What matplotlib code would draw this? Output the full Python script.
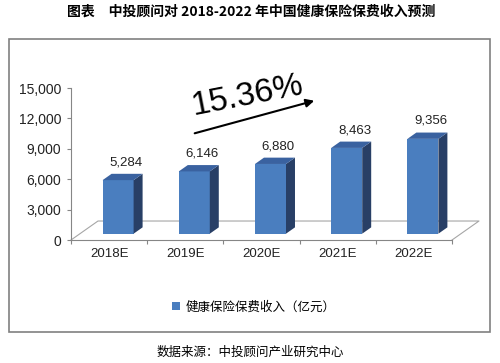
import numpy as np
import matplotlib.pyplot as plt
from matplotlib.patches import Rectangle, Patch

plt.rcParams['font.family'] = ['Liberation Sans', 'Noto Sans CJK SC', 'DejaVu Sans']

# data
years = ["2018E", "2019E", "2020E", "2021E", "2022E"]
premium = [5284, 6146, 6880, 8463, 9356]
series_name = "健康保险保费收入（亿元）"
growth_label = "15.36%"
title = "图表　中投顾问对 2018-2022 年中国健康保险保费收入预测"
source = "数据来源：中投顾问产业研究中心"

yticks = [0, 3000, 6000, 9000, 12000, 15000]

# colours
c_front = "#4A7EBF"
c_side = "#283F66"
c_top = "#3A62A0"
c_grid = "#A6A6A6"
c_axis = "#868686"

fig = plt.figure(figsize=(5, 3.63), dpi=100)
ax = fig.add_axes([0.142, 0.3388, 0.762, 0.4187])
ax.set_xlim(0, len(years))
ax.set_ylim(0, 15000)

# 3d depth of the floor (in data units)
depth_x = 0.354
depth_y = 1875

# floor outline
ax.plot([0, depth_x, len(years) + depth_x, len(years)],
        [0, depth_y, depth_y, 0], color=c_grid, lw=0.8, clip_on=False, zorder=1)

# bars (front face, side face, top face)
bw = 0.407
for i, v in enumerate(premium):
    x0 = i + 0.5 + depth_x / 3 - bw / 2
    x1 = x0 + bw
    b = depth_y / 3
    t = b + v
    ddx = depth_x / 3
    ddy = depth_y / 3
    ax.fill([x0, x1, x1, x0], [b, b, t, t], color=c_front, zorder=3, clip_on=False, lw=0)
    ax.fill([x1, x1 + ddx, x1 + ddx, x1], [b, b + ddy, t + ddy, t],
            color=c_side, zorder=3, clip_on=False, lw=0)
    ax.fill([x0, x1, x1 + ddx, x0 + ddx], [t, t, t + ddy, t + ddy],
            color=c_top, zorder=3, clip_on=False, lw=0)
    ax.annotate(f"{v:,}", (i + 0.5 + 0.22, t + ddy), xytext=(0, 4),
                textcoords="offset points", ha="center", va="bottom",
                fontsize=9.5, color="#222222", annotation_clip=False)

# axes styling
for s in ["top", "right"]:
    ax.spines[s].set_visible(False)
ax.spines["left"].set_color(c_axis)
ax.spines["bottom"].set_color(c_axis)
ax.set_yticks(yticks)
ax.set_yticklabels([f"{t:,}" for t in yticks])
ax.tick_params(axis="y", direction="out", length=3, width=0.8, color=c_axis,
               labelsize=10, pad=4, labelcolor="#222222")
ax.set_xticks(np.arange(len(years) + 1))
ax.set_xticklabels([])
ax.set_xticks(np.arange(len(years)) + 0.5, minor=True)
ax.set_xticklabels(years, minor=True)
ax.tick_params(axis="x", which="major", direction="out", length=3, width=0.8, color=c_axis)
ax.tick_params(axis="x", which="minor", length=0, labelsize=9.5, pad=6, labelcolor="#222222")

# growth arrow and label
ax.annotate("", xy=(3.228, 13816), xytext=(1.588, 10461),
            arrowprops=dict(arrowstyle="-|>", color="black", lw=1.5, mutation_scale=12),
            annotation_clip=False)
ax.text(2.31, 14210, growth_label, fontsize=24, rotation=11, ha="center", va="center",
        color="black", clip_on=False)

# legend
handle = Patch(facecolor=c_front, edgecolor="none")
fig.legend([handle], [series_name], loc="center", bbox_to_anchor=(0.508, 1 - 307 / 363),
           frameon=False, handlelength=0.6, handleheight=0.6, handletextpad=0.5,
           prop={"family": ["Noto Sans CJK SC", "DejaVu Sans"], "size": 9})

# frame, title and source
fig.patches.append(Rectangle((0.018, 1 - 332 / 363), 0.962, 293 / 363, transform=fig.transFigure,
                             fill=False, edgecolor="#808080", lw=1.2))
fig.text(0.502, 1 - 12 / 363, title, ha="center", va="center", fontsize=10, fontweight="bold",
         family=["Noto Sans CJK SC", "DejaVu Sans"])
fig.text(0.5, 1 - 352 / 363, source, ha="center", va="center", fontsize=9,
         family=["Noto Sans CJK SC", "DejaVu Sans"])

fig.savefig("out.png", dpi=100)
